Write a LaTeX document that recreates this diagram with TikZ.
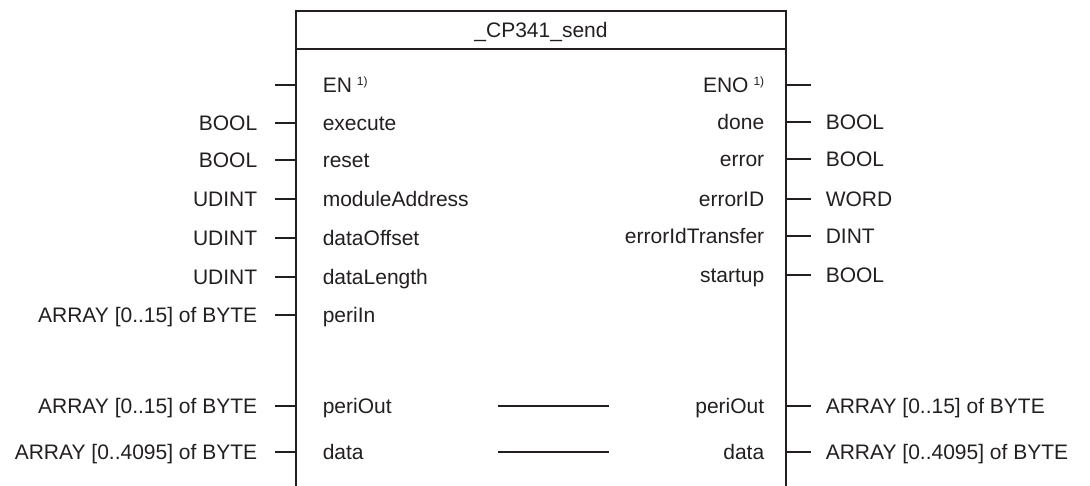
\documentclass[tikz,border=0pt]{standalone}
\usepackage{fontspec}
\setmainfont{Liberation Sans}
\definecolor{ink}{HTML}{231F20}
\newcommand\footmark{\hspace{5pt}\raisebox{6.5pt}{\fontsize{12}{14}\selectfont 1)}}
\begin{document}
\begin{tikzpicture}[x=1pt,y=-1pt,line width=1.6pt,draw=ink,
  txt/.style={font=\fontsize{21}{25}\selectfont,inner sep=0pt,text=ink},
  inname/.style={txt,anchor=base west},
  outname/.style={txt,anchor=base east},
  intype/.style={txt,anchor=base east},
  outtype/.style={txt,anchor=base west}]
\useasboundingbox (0,0) rectangle (1090,486);

% block outline, open at the bottom, with the title bar
\coordinate (bl) at (296,486);
\coordinate (tl) at (296,11);
\coordinate (tr) at (786,11);
\coordinate (br) at (786,486);
\coordinate (hl) at (296,49);
\coordinate (hr) at (786,49);
\draw (bl) -- (tl) -- (tr) -- (br);
\draw (hl) -- (hr);
\node[txt,anchor=base] (title) at (541,37.5) {\_CP341\_send};

% inputs: name / row / data type
\foreach \n/\y/\t in {EN/85/{},execute/123/BOOL,reset/160/BOOL,
    moduleAddress/199/UDINT,dataOffset/238/UDINT,dataLength/277/UDINT,
    periIn/315/{ARRAY [0..15] of BYTE},periOut/406/{ARRAY [0..15] of BYTE},
    data/452/{ARRAY [0..4095] of BYTE}}{
  \coordinate (pin-\n) at (296,\y);
  \coordinate (stub-\n) at (275,\y);
  \draw (stub-\n) -- (pin-\n);
  \node[intype] (ti-\n) at (258,\y+7.5) {\t};
}
\node[inname] (in-EN) at (322,85+7.5) {EN\footmark};
\node[inname] (in-execute) at (322,123+7.5) {execute};
\node[inname] (in-reset) at (322,160+7.5) {reset};
\node[inname] (in-moduleAddress) at (322,199+7.5) {moduleAddress};
\node[inname] (in-dataOffset) at (322,238+7.5) {dataOffset};
\node[inname] (in-dataLength) at (322,277+7.5) {dataLength};
\node[inname] (in-periIn) at (322,315+7.5) {periIn};
\node[inname] (in-periOut) at (322,406+7.5) {periOut};
\node[inname] (in-data) at (322,452+7.5) {data};

% outputs: name / row / data type
\foreach \n/\y/\t in {ENO/85/{},done/122/BOOL,error/159/BOOL,
    errorID/199/WORD,errorIdTransfer/236/DINT,startup/275/BOOL,
    periOut/406/{ARRAY [0..15] of BYTE},data/452/{ARRAY [0..4095] of BYTE}}{
  \coordinate (pout-\n) at (786,\y);
  \coordinate (sout-\n) at (811,\y);
  \draw (pout-\n) -- (sout-\n);
  \node[outtype] (to-\n) at (825,\y+7.5) {\t};
}
\node[outname] (out-ENO) at (765,85+7.5) {ENO\footmark};
\node[outname] (out-done) at (765,122+7.5) {done};
\node[outname] (out-error) at (765,159+7.5) {error};
\node[outname] (out-errorID) at (765,199+7.5) {errorID};
\node[outname] (out-errorIdTransfer) at (765,236+7.5) {errorIdTransfer};
\node[outname] (out-startup) at (765,275+7.5) {startup};
\node[outname] (out-periOut) at (765,406+7.5) {periOut};
\node[outname] (out-data) at (765,452+7.5) {data};

% in/out parameters pass straight through the block
\coordinate (ta-periOut) at (498,406);
\coordinate (tb-periOut) at (609,406);
\coordinate (ta-data) at (498,452);
\coordinate (tb-data) at (609,452);
\draw (ta-periOut) -- (tb-periOut);
\draw (ta-data) -- (tb-data);
\end{tikzpicture}
\end{document}
